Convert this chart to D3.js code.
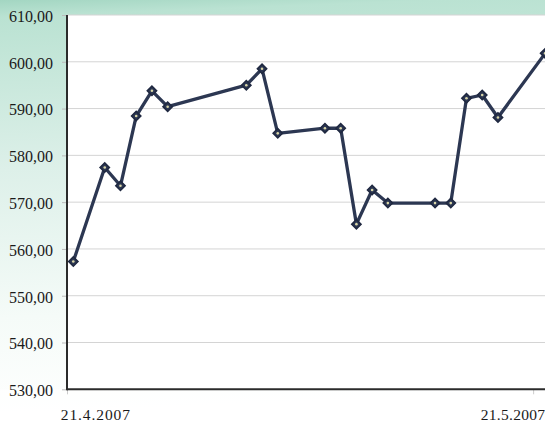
<!DOCTYPE html>
<html><head><meta charset="utf-8">
<script src="https://cdn.jsdelivr.net/npm/d3@7"></script>
<style>html,body{margin:0;padding:0;background:#fff;}svg{display:block;}</style>
</head><body>
<script>
const dates = ["2007-04-21","2007-04-23","2007-04-24","2007-04-25","2007-04-26","2007-04-27",
  "2007-05-02","2007-05-03","2007-05-04","2007-05-07","2007-05-08","2007-05-09","2007-05-10",
  "2007-05-11","2007-05-14","2007-05-15","2007-05-16","2007-05-17","2007-05-18","2007-05-21"];
const values = [557.3,577.4,573.5,588.4,593.8,590.4,595.0,598.5,584.7,585.8,585.8,565.3,572.6,
  569.8,569.8,569.8,592.2,592.9,588.1,601.8];
const yTicks = [530,540,550,560,570,580,590,600,610];
const xTickDates = ["2007-04-21","2007-05-21"];
const xTickLabels = ["21.4.2007","21.5.2007"];

(function(){
const W = 545, H = 423;
const parse = s => { const [a,b,c] = s.split("-").map(Number); return new Date(a,b-1,c); };
const data = dates.map((d,i) => ({date: parse(d), value: values[i]}));

const svg = d3.select("body").append("svg").attr("width", W).attr("height", H);
const defs = svg.append("defs");
const g = defs.append("linearGradient").attr("id","bg").attr("x1",0).attr("y1",0).attr("x2",0.05).attr("y2",1);
g.append("stop").attr("offset","0%").attr("stop-color","#a3d6c2");
g.append("stop").attr("offset","4%").attr("stop-color","#bae2d2");
g.append("stop").attr("offset","40%").attr("stop-color","#ddf0e9");
g.append("stop").attr("offset","75%").attr("stop-color","#f5fbf8");
g.append("stop").attr("offset","100%").attr("stop-color","#ffffff");
svg.append("rect").attr("width",W).attr("height",H).attr("fill","url(#bg)");

const pL = 67, pT = 15, pB = 389.3;
const x = d3.scaleTime()
  .domain([new Date(2007,3,20,14,24), new Date(2007,4,21,12)])
  .range([pL, 553]);
const y = d3.scaleLinear().domain([530,610]).range([pB, pT]);

svg.append("rect").attr("x",0).attr("y",pB).attr("width",W).attr("height",H-pB).attr("fill","#ffffff").attr("opacity",0.6);
svg.append("rect").attr("x",pL).attr("y",pT).attr("width",W-pL).attr("height",pB-pT).attr("fill","#ffffff");

svg.append("g").selectAll("line").data(yTicks.filter(v=>v>530)).join("line")
  .attr("x1",pL).attr("x2",W).attr("y1",d=>y(d)).attr("y2",d=>y(d))
  .attr("stroke","#d4d4d4").attr("stroke-width",1);

const yAxis = svg.append("g").attr("transform",`translate(${pL},0)`)
  .call(d3.axisLeft(y).tickValues(yTicks).tickSize(5).tickPadding(9)
    .tickFormat(d => d3.format(".2f")(d).replace(".",",")));
yAxis.select(".domain").remove();
yAxis.selectAll(".tick line").attr("stroke","#bbbbbb");
yAxis.selectAll(".tick text").attr("font-family","'Liberation Serif', 'Times New Roman', serif")
  .attr("font-size","16px").attr("fill","#1a1a1a").attr("dy","0.4em");

const xAxis = svg.append("g").attr("transform",`translate(0,${pB})`)
  .call(d3.axisBottom(x).tickValues(xTickDates.map(parse)).tickSize(5).tickPadding(0)
    .tickFormat((d,i) => xTickLabels[i]));
xAxis.select(".domain").remove();
xAxis.selectAll(".tick line").attr("stroke","#cccccc").attr("transform",(d,i)=> i===0 ? `translate(${pL - x(d)},0)` : `translate(-12,0)`);
xAxis.selectAll(".tick text")
  .attr("font-family","'Liberation Serif', 'Times New Roman', serif")
  .attr("font-size","15.5px").attr("fill","#1a1a1a")
  .attr("letter-spacing",(d,i)=> i===0 ? "0.9px" : "0.3px")
  .attr("text-anchor","start")
  .attr("y",31).attr("dy",0)
  .attr("dx",(d,i)=> i===0 ? -13 : -65);

svg.append("line").attr("x1",pL).attr("x2",pL).attr("y1",pT).attr("y2",pB+1)
  .attr("stroke","#2b2b2b").attr("stroke-width",2);
svg.append("line").attr("x1",pL).attr("x2",W).attr("y1",pB).attr("y2",pB)
  .attr("stroke","#2b2b2b").attr("stroke-width",2);

const line = d3.line().x(d=>x(d.date)).y(d=>y(d.value));
svg.append("path").datum(data).attr("d",line).attr("fill","none")
  .attr("stroke","#2c3752").attr("stroke-width",3.3).attr("stroke-linejoin","round");

const mk = svg.append("g").selectAll("g").data(data).join("g")
  .attr("transform",d=>`translate(${x(d.date)},${y(d.value)})`);
mk.append("path").attr("d",d3.symbol(d3.symbolSquare, 44)())
  .attr("transform","rotate(45)")
  .attr("fill","#2c3752").attr("stroke","#1f2840").attr("stroke-width",1.5);
mk.append("circle").attr("r",1.3).attr("fill","#d9d6a8");
})();
</script>
</body></html>
